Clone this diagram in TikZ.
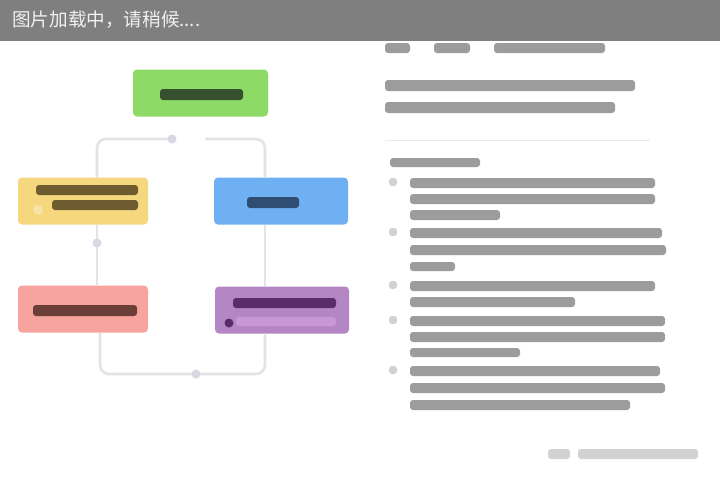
\documentclass[tikz,border=0pt]{standalone}
\usepackage{fontspec}
\newfontfamily\cjk{Noto Sans CJK SC}
\definecolor{banner}{HTML}{7F7F7F}
\definecolor{bannertext}{HTML}{F0F0F0}
\definecolor{gfill}{HTML}{8DDB66}
\definecolor{gtext}{HTML}{34502E}
\definecolor{yfill}{HTML}{F5D77E}
\definecolor{ytext}{HTML}{6E5C30}
\definecolor{bfill}{HTML}{6EB0F2}
\definecolor{btext}{HTML}{2F4C72}
\definecolor{rfill}{HTML}{F6A49D}
\definecolor{rtext}{HTML}{6B3E38}
\definecolor{pfill}{HTML}{B486C3}
\definecolor{ptext}{HTML}{5A2C68}
\definecolor{plight}{HTML}{C898D6}
\definecolor{conn}{HTML}{E4E4E8}
\definecolor{mark}{HTML}{D8D8E4}
\definecolor{txt}{HTML}{9C9C9C}
\definecolor{txtlight}{HTML}{D2D2D2}
\tikzset{
  box/.style={rounded corners=4pt, minimum width=#1, minimum height=47pt, inner sep=0pt},
  box/.default=132pt,
  bar/.style={rounded corners=3pt, fill=#1},
  conline/.style={draw=conn, line width=2.6pt, rounded corners=9pt},
  blob/.style={circle, fill=mark, minimum size=9pt, inner sep=0pt},
}
\begin{document}
\begin{tikzpicture}[x=1pt,y=-1pt]
\useasboundingbox (0,0) rectangle (720,483);
\fill[white] (0,0) rectangle (720,483);

% ---- boxes
\node[box=135pt, fill=gfill] (g) at (200.5,93) {};
\node[box=130pt, fill=yfill] (y) at (83,201) {};
\node[box=134pt, fill=bfill] (b) at (281,201) {};
\node[box=130pt, fill=rfill] (r) at (83,309) {};
\node[box=134pt, fill=pfill] (p) at (282,310) {};

% ---- blurred labels inside boxes
\fill[bar=gtext] (160,89) rectangle (243,100);
\fill[bar=ytext] (36,185) rectangle (138,195);
\fill[bar=ytext] (52,200) rectangle (138,210);
\fill[yfill!70!white] (38,210) circle (5pt);
\fill[bar=btext] (247,197) rectangle (299,208);
\fill[bar=rtext] (33,305) rectangle (137,316);
\fill[bar=ptext] (233,298) rectangle (336,308);
\fill[bar=plight] (236,317) rectangle (336,326);
\fill[ptext] (229,323) circle (4.5pt);

% ---- connectors
\coordinate (m1) at (172,139);
\coordinate (g1) at (205,139);
\coordinate (m2) at (97,243);
\coordinate (m3) at (196,374);
\draw[conline] (y.north -| m2) |- (m1);
\draw[conline] (g1) -| (b.north -| 265,0);
\draw[conline] (b.south -| 265,0) -- (p.north -| 265,0);
\draw[conline] (p.south -| 265,0) |- (m3);
\draw[conline] (m3) -| (r.south -| 100,0);
\draw[conline] (r.north -| m2) -- (y.south -| m2);
\node[blob] (k1) at (m1) {};
\node[blob] (k2) at (m2) {};
\node[blob] (k3) at (m3) {};

% ---- right column (blurred text)
\fill[bar=txt] (385,43) rectangle (410,53);
\fill[bar=txt] (434,43) rectangle (470,53);
\fill[bar=txt] (494,43) rectangle (605,53);
\fill[bar=txt] (385,80) rectangle (635,91);
\fill[bar=txt] (385,102) rectangle (615,113);
\draw[txtlight!50!white, line width=1pt] (385,140) -- (650,140);
\fill[bar=txt] (390,158) rectangle (480,167);
% item 1
\fill[bar=txtlight] (389,178) rectangle (397,186);
\fill[bar=txt] (410,178) rectangle (655,188);
\fill[bar=txt] (410,194) rectangle (655,204);
\fill[bar=txt] (410,210) rectangle (500,220);
% item 2
\fill[bar=txtlight] (389,228) rectangle (397,236);
\fill[bar=txt] (410,228) rectangle (662,238);
\fill[bar=txt] (410,245) rectangle (666,255);
\fill[bar=txt] (410,262) rectangle (455,271);
% item 3
\fill[bar=txtlight] (389,281) rectangle (397,289);
\fill[bar=txt] (410,281) rectangle (655,291);
\fill[bar=txt] (410,297) rectangle (575,307);
% item 4
\fill[bar=txtlight] (389,316) rectangle (397,324);
\fill[bar=txt] (410,316) rectangle (665,326);
\fill[bar=txt] (410,332) rectangle (665,342);
\fill[bar=txt] (410,348) rectangle (520,357);
% item 5
\fill[bar=txtlight] (389,366) rectangle (397,374);
\fill[bar=txt] (410,366) rectangle (660,376);
\fill[bar=txt] (410,383) rectangle (665,393);
\fill[bar=txt] (410,400) rectangle (630,410);
% footer
\fill[bar=txtlight] (548,449) rectangle (570,459);
\fill[bar=txtlight] (578,449) rectangle (698,459);

% ---- loading banner
\fill[banner] (0,0) rectangle (720,41);
\node[anchor=west, inner sep=0pt, text=bannertext, font=\cjk\fontsize{18.6}{18.6}\selectfont] (ban) at (12,20) {图片加载中，请稍候....};
\end{tikzpicture}
\end{document}
